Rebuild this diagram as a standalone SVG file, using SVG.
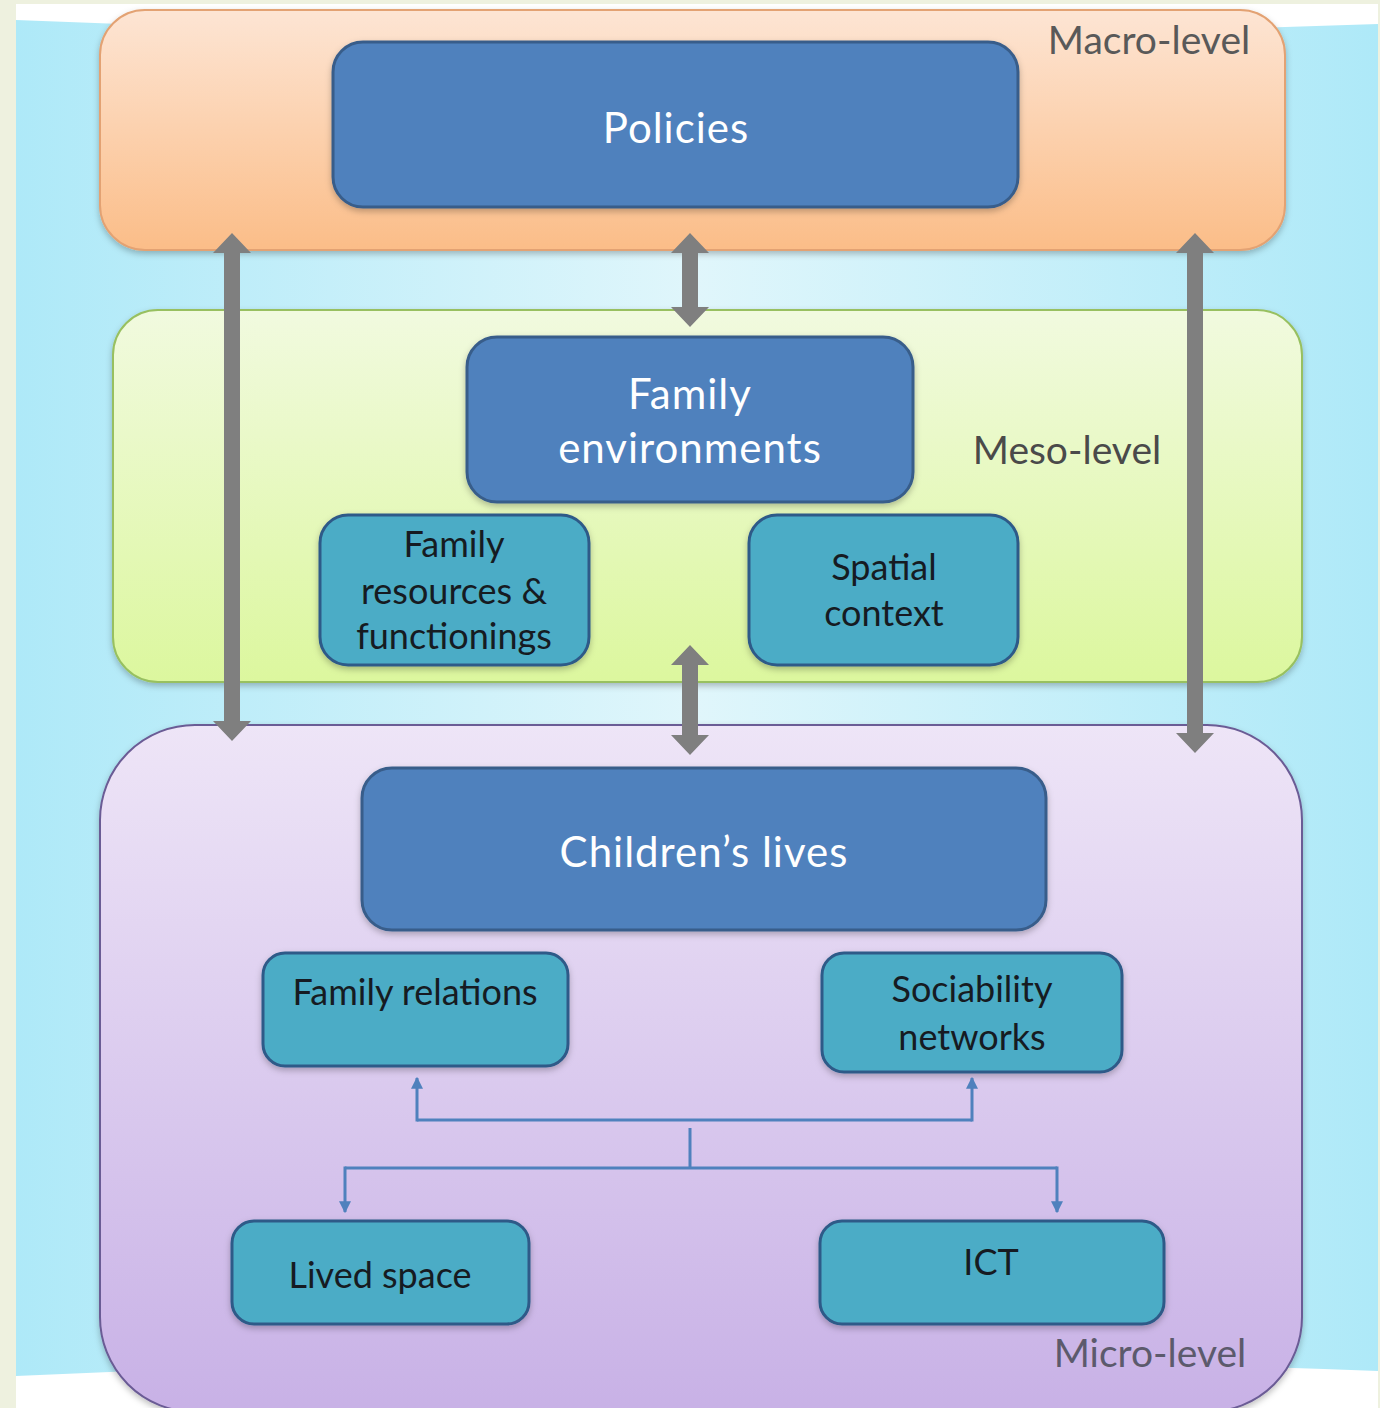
<svg xmlns="http://www.w3.org/2000/svg" width="1380" height="1408" viewBox="0 0 1380 1408">
  <style>
    .lvl { font-family: Lato, "Open Sans", "Liberation Sans", sans-serif; font-size: 39px; text-anchor: middle; }
    .big { font-family: Lato, "Open Sans", "Liberation Sans", sans-serif; font-size: 42px; letter-spacing: 1px; fill: #ffffff; text-anchor: middle; }
    .small { font-family: Lato, "Open Sans", "Liberation Sans", sans-serif; font-size: 36px; fill: #161b22; text-anchor: middle; }
    .dark { fill: #4f81bd; stroke: #385d8a; stroke-width: 3; }
    .teal { fill: #4bacc6; stroke: #2e5a88; stroke-width: 3; }
    .conn { fill: none; stroke: #4f81bd; stroke-width: 3; }
    .gray { fill: #7f7f7f; }
  </style>
  <defs>
    <linearGradient id="sky" x1="0" y1="0" x2="1" y2="0">
      <stop offset="0" stop-color="#aee9f8"/>
      <stop offset="0.5" stop-color="#e0f6fb"/>
      <stop offset="1" stop-color="#aee9f8"/>
    </linearGradient>
    <linearGradient id="macroG" x1="0" y1="0" x2="0" y2="1">
      <stop offset="0" stop-color="#fde5d4"/>
      <stop offset="1" stop-color="#fbbd88"/>
    </linearGradient>
    <linearGradient id="mesoG" x1="0" y1="0" x2="0" y2="1">
      <stop offset="0" stop-color="#f1fadf"/>
      <stop offset="1" stop-color="#dcf79e"/>
    </linearGradient>
    <linearGradient id="microG" x1="0" y1="0" x2="0" y2="1">
      <stop offset="0" stop-color="#eee5f7"/>
      <stop offset="1" stop-color="#c8b1e6"/>
    </linearGradient>
    <filter id="sh" x="-5%" y="-5%" width="110%" height="115%">
      <feDropShadow dx="0" dy="3" stdDeviation="3" flood-color="#000" flood-opacity="0.25"/>
    </filter>
    <marker id="ah" viewBox="0 0 10 10" refX="9" refY="5" markerWidth="12" markerHeight="12" markerUnits="userSpaceOnUse" orient="auto">
      <path d="M0,0 L10,5 L0,10 z" fill="#4f81bd"/>
    </marker>
  </defs>

  <!-- slide background -->
  <rect x="0" y="0" width="1380" height="1408" fill="#eef1df"/>
  <rect x="16" y="4" width="1362" height="1404" fill="#ffffff"/>
  <path d="M16,20 Q690,48 1378,24 L1378,1371 Q690,1345 16,1376 Z" fill="url(#sky)"/>

  <!-- level containers -->
  <g id="macro-level">
    <rect x="100" y="10" width="1185" height="240" rx="45" fill="url(#macroG)" stroke="#e3a273" stroke-width="2" filter="url(#sh)"/>
    <text class="lvl" x="1149" y="54" fill="#595959">Macro-level</text>
  </g>
  <g id="meso-level">
    <rect x="113" y="310" width="1189" height="372" rx="45" fill="url(#mesoG)" stroke="#98c060" stroke-width="2" filter="url(#sh)"/>
    <text class="lvl" x="1067" y="464" fill="#4a4a4a">Meso-level</text>
  </g>
  <g id="micro-level">
    <rect x="100" y="725" width="1202" height="687" rx="95" fill="url(#microG)" stroke="#6b5b95" stroke-width="2" filter="url(#sh)"/>
    <text class="lvl" x="1150" y="1367" fill="#5c5a6c">Micro-level</text>
  </g>

  <!-- nodes -->
  <g id="policies">
    <rect class="dark" x="333" y="42" width="685" height="165" rx="30" filter="url(#sh)"/>
    <text class="big" x="676" y="143">Policies</text>
  </g>
  <g id="family-environments">
    <rect class="dark" x="467" y="337" width="446" height="165" rx="30" filter="url(#sh)"/>
    <text class="big" x="690" y="409">Family</text>
    <text class="big" x="690" y="463">environments</text>
  </g>
  <g id="family-resources">
    <rect class="teal" x="320" y="515" width="269" height="150" rx="28" filter="url(#sh)"/>
    <text class="small" x="454" y="557">Family</text>
    <text class="small" x="454" y="604">resources &amp;</text>
    <text class="small" x="454" y="649">functionings</text>
  </g>
  <g id="spatial-context">
    <rect class="teal" x="749" y="515" width="269" height="150" rx="28" filter="url(#sh)"/>
    <text class="small" x="884" y="580">Spatial</text>
    <text class="small" x="884" y="626">context</text>
  </g>
  <g id="childrens-lives">
    <rect class="dark" x="362" y="768" width="684" height="162" rx="30" filter="url(#sh)"/>
    <text class="big" x="704" y="867">Children’s lives</text>
  </g>
  <g id="family-relations">
    <rect class="teal" x="263" y="953" width="305" height="113" rx="22" filter="url(#sh)"/>
    <text class="small" x="415" y="1005">Family relations</text>
  </g>
  <g id="sociability-networks">
    <rect class="teal" x="822" y="953" width="300" height="119" rx="22" filter="url(#sh)"/>
    <text class="small" x="972" y="1002">Sociability</text>
    <text class="small" x="972" y="1050">networks</text>
  </g>
  <g id="lived-space">
    <rect class="teal" x="232" y="1221" width="297" height="103" rx="22" filter="url(#sh)"/>
    <text class="small" x="380" y="1288">Lived space</text>
  </g>
  <g id="ict">
    <rect class="teal" x="820" y="1221" width="344" height="103" rx="22" filter="url(#sh)"/>
    <text class="small" x="991" y="1275">ICT</text>
  </g>

  <!-- connectors -->
  <g id="connectors">
    <polygon class="gray" points="232,233 251,253 240,253 240,721 251,721 232,741 213,721 224,721 224,253 213,253"/>
    <polygon class="gray" points="1195,233 1214,253 1203,253 1203,733 1214,733 1195,753 1176,733 1187,733 1187,253 1176,253"/>
    <polygon class="gray" points="690,233 709,253 698,253 698,307 709,307 690,327 671,307 682,307 682,253 671,253"/>
    <polygon class="gray" points="690,645 709,665 698,665 698,735 709,735 690,755 671,735 682,735 682,665 671,665"/>

    <path class="conn" d="M417,1120 H972"/>
    <path class="conn" d="M417,1121.5 V1078" marker-end="url(#ah)"/>
    <path class="conn" d="M972,1121.5 V1078" marker-end="url(#ah)"/>
    <path class="conn" d="M690,1128 V1168"/>
    <path class="conn" d="M345,1168 H1057"/>
    <path class="conn" d="M345,1166.5 V1212" marker-end="url(#ah)"/>
    <path class="conn" d="M1057,1166.5 V1212" marker-end="url(#ah)"/>
  </g>
</svg>
